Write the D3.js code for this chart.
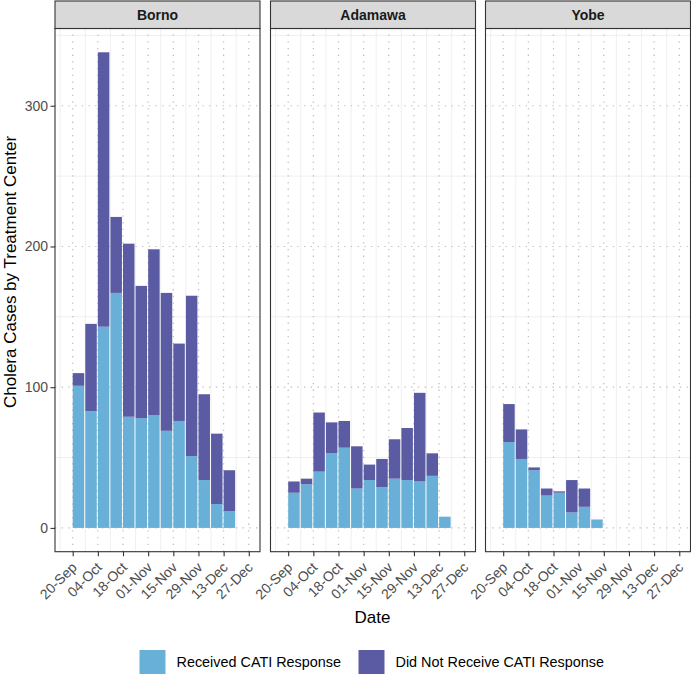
<!DOCTYPE html>
<html><head><meta charset="utf-8">
<script src="https://cdn.jsdelivr.net/npm/d3@7"></script>
<style>
body{margin:0;background:#fff;}
text{font-family:"Liberation Sans",Arial,Helvetica,sans-serif;}
</style></head>
<body><svg id="c" width="691" height="680"></svg>
<script>
// ---- data ----
const regions = ["Borno", "Adamawa", "Yobe"];
const weekStarts = ["2018-09-20","2018-09-27","2018-10-04","2018-10-11","2018-10-18","2018-10-25","2018-11-01","2018-11-08","2018-11-15","2018-11-22","2018-11-29","2018-12-06","2018-12-13"];
const bornoReceived    = [101, 83, 143, 167, 79, 78, 80, 69, 76, 51, 34, 17, 12];
const bornoNotReceived = [9, 62, 195, 54, 123, 94, 118, 98, 55, 114, 61, 50, 29];
const adamawaReceived    = [25, 31, 40, 53, 57, 28, 34, 29, 35, 34, 33, 37, 8];
const adamawaNotReceived = [8, 4, 42, 22, 19, 30, 11, 20, 28, 37, 63, 16, 0];
const yobeReceived    = [61, 49, 41, 23, 25, 11, 15, 6];
const yobeNotReceived = [27, 21, 2, 5, 1, 23, 13, 0];
const tickDates  = ["2018-09-20","2018-10-04","2018-10-18","2018-11-01","2018-11-15","2018-11-29","2018-12-13","2018-12-27"];
const tickLabels = ["20-Sep","04-Oct","18-Oct","01-Nov","15-Nov","29-Nov","13-Dec","27-Dec"];
const yTicks = [0, 100, 200, 300];
const yMinor = [50, 150, 250, 350];
const seriesNames = ["Received CATI Response", "Did Not Receive CATI Response"];
const seriesColors = ["#68b0d8", "#5a5ba3"];

const received = {Borno: bornoReceived, Adamawa: adamawaReceived, Yobe: yobeReceived};
const notReceived = {Borno: bornoNotReceived, Adamawa: adamawaNotReceived, Yobe: yobeNotReceived};

// ---- layout ----
const svg = d3.select("#c");
const parse = d3.utcParse("%Y-%m-%d");
const DAY = 864e5;
const panelLeft = [55, 270.5, 485.5];
const panelW = 205;
const stripTop = 1, panelTop = 28.5, panelBottom = 551.7;
const ref = parse("2018-09-20").getTime();

const x = d3.scaleUtc()
  .domain([new Date(ref - 9.85*DAY), new Date(ref + 104.25*DAY)])
  .range([0, panelW]);
const y = d3.scaleLinear().domain([-16.9, 354.9]).range([panelBottom, panelTop]);

const minorDates = [parse("2018-09-13")].concat(tickDates.map(d => new Date(parse(d).getTime() + 7*DAY)))
  .filter(d => d >= x.domain()[0] && d <= x.domain()[1]);

regions.forEach((r, i) => {
  const g = svg.append("g").attr("transform", `translate(${panelLeft[i]},0)`);
  // minor grid
  g.selectAll(".ym").data(yMinor).join("line")
    .attr("x1", 0).attr("x2", panelW).attr("y1", d => y(d)).attr("y2", d => y(d))
    .attr("stroke", "#ebebeb").attr("stroke-width", 0.8);
  g.selectAll(".xm").data(minorDates).join("line")
    .attr("x1", d => x(d)).attr("x2", d => x(d)).attr("y1", panelTop).attr("y2", panelBottom)
    .attr("stroke", "#ebebeb").attr("stroke-width", 0.8);
  // major grid dotted
  g.selectAll(".yM").data(yTicks).join("line")
    .attr("x1", 0).attr("x2", panelW).attr("y1", d => y(d)).attr("y2", d => y(d))
    .attr("stroke", "#bdbdbd").attr("stroke-width", 1.2).attr("stroke-dasharray", "1.3,5.4");
  g.selectAll(".xM").data(tickDates).join("line")
    .attr("x1", d => x(parse(d))).attr("x2", d => x(parse(d))).attr("y1", panelBottom).attr("y2", panelTop)
    .attr("stroke", "#bdbdbd").attr("stroke-width", 1.2).attr("stroke-dasharray", "1.3,5.4");

  // bars
  const rec = received[r], nr = notReceived[r];
  const bars = rec.map((v, k) => ({date: parse(weekStarts[k]), rec: v, nr: nr[k]}));
  const bw = d => x(new Date(d.date.getTime() + 6.4*DAY)) - x(d.date);
  g.selectAll(".br").data(bars).join("rect")
    .attr("x", d => x(d.date)).attr("width", bw)
    .attr("y", d => y(d.rec)).attr("height", d => y(0) - y(d.rec))
    .attr("fill", seriesColors[0]);
  g.selectAll(".bn").data(bars.filter(d => d.nr > 0)).join("rect")
    .attr("x", d => x(d.date)).attr("width", bw)
    .attr("y", d => y(d.rec + d.nr)).attr("height", d => y(d.rec) - y(d.rec + d.nr))
    .attr("fill", seriesColors[1]);

  // panel border
  g.append("rect").attr("x", 0).attr("y", panelTop).attr("width", panelW).attr("height", panelBottom - panelTop)
    .attr("fill", "none").attr("stroke", "#333").attr("stroke-width", 1.1);
  // strip
  g.append("rect").attr("x", 0).attr("y", stripTop).attr("width", panelW).attr("height", panelTop - stripTop)
    .attr("fill", "#d9d9d9").attr("stroke", "#333").attr("stroke-width", 1.1);
  g.append("text").attr("x", panelW/2).attr("y", 20).attr("text-anchor", "middle")
    .attr("font-size", 14).attr("font-weight", "bold").attr("fill", "#1a1a1a").text(r);

  // x axis
  const xa = g.append("g").attr("transform", `translate(0,${panelBottom})`)
    .call(d3.axisBottom(x).tickValues(tickDates.map(parse)).tickFormat((d, k) => tickLabels[k]).tickSize(4.5).tickSizeOuter(0));
  xa.select(".domain").remove();
  xa.selectAll(".tick line").attr("stroke", "#333").attr("stroke-width", 1.1);
  xa.selectAll(".tick text")
    .attr("font-size", 14).attr("fill", "#4d4d4d").attr("font-family", "Liberation Sans, Arial, sans-serif")
    .attr("text-anchor", "end").attr("y", 0).attr("dy", 0)
    .attr("transform", "translate(4.5,16.5) rotate(-45)");

  if (i === 0) {
    const ya = g.append("g").call(d3.axisLeft(y).tickValues(yTicks).tickSize(4.5).tickSizeOuter(0));
    ya.select(".domain").remove();
    ya.selectAll(".tick line").attr("stroke", "#333").attr("stroke-width", 1.1);
    ya.selectAll(".tick text").attr("font-size", 14).attr("fill", "#4d4d4d")
      .attr("font-family", "Liberation Sans, Arial, sans-serif").attr("x", -7);
  }
});

// axis titles
svg.append("text").attr("x", 372.5).attr("y", 623).attr("text-anchor", "middle")
  .attr("font-size", 17).attr("fill", "#000").text("Date");
svg.append("text").attr("transform", "translate(16,272) rotate(-90)").attr("text-anchor", "middle")
  .attr("font-size", 17).attr("fill", "#000").text("Cholera Cases by Treatment Center");

// legend
const legX = [139.5, 358.5];
seriesNames.forEach((s, k) => {
  svg.append("rect").attr("x", legX[k]).attr("y", 650).attr("width", 26).attr("height", 24).attr("fill", seriesColors[k]);
  svg.append("text").attr("x", legX[k] + 37).attr("y", 667).attr("font-size", 14.4).attr("fill", "#000").text(s);
});
</script></body></html>
